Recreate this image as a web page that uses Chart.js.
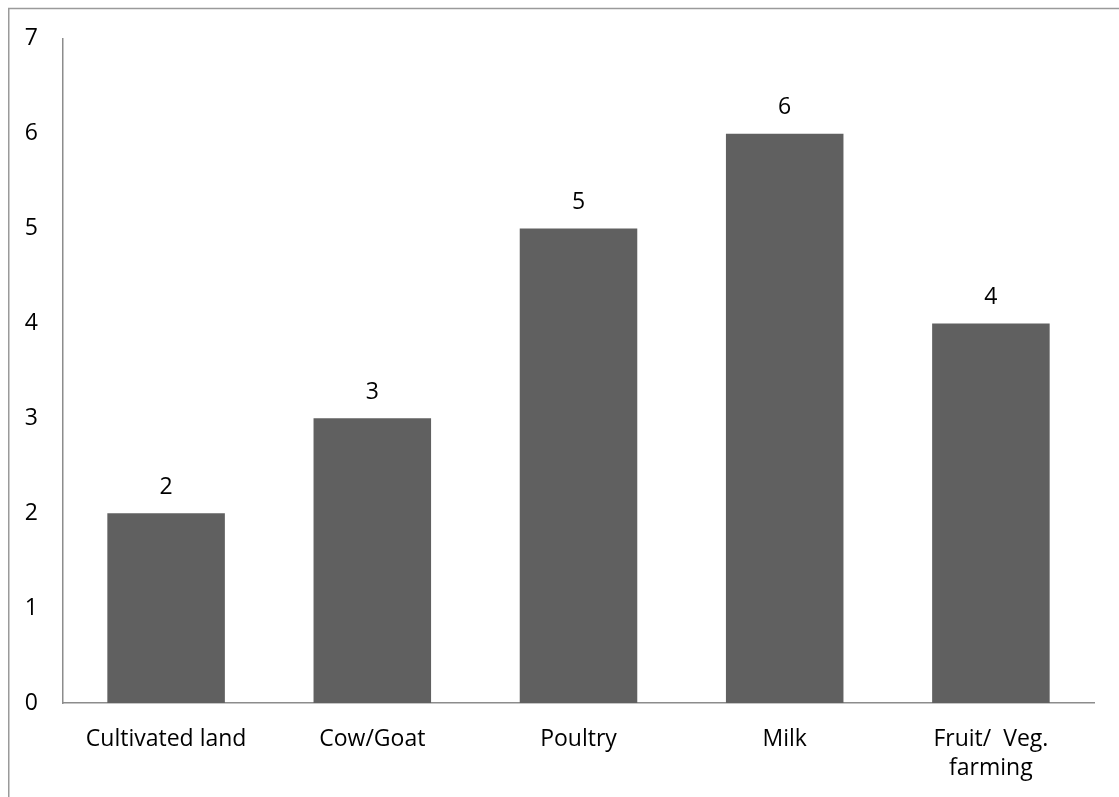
<!DOCTYPE html>
<html>
<head>
<meta charset="utf-8">
<script src="https://cdn.jsdelivr.net/npm/chart.js@4/dist/chart.umd.min.js"></script>
<style>
  html, body { margin: 0; padding: 0; background: #fff; }
  #wrap { position: relative; width: 1119px; height: 797px; }
</style>
</head>
<body>
<div id="wrap"><canvas id="c" width="1119" height="797"></canvas></div>
<script>
// Income sources and their counts
const categories = ['Cultivated land', 'Cow/Goat', 'Poultry', 'Milk', ['Fruit/  Veg.', 'farming']];
const counts = [2, 3, 5, 6, 4];
const yTicks = [0, 1, 2, 3, 4, 5, 6, 7];

const FONT = { family: '"Open Sans", sans-serif', size: 23 };
const AXIS_GRAY = '#8c8c8c';

// Frame line along the top and left edges of the figure
const framePlugin = {
  id: 'frame',
  beforeDraw(chart) {
    const ctx = chart.ctx;
    ctx.save();
    ctx.strokeStyle = '#9a9a9a';
    ctx.lineWidth = 1.5;
    ctx.beginPath();
    ctx.moveTo(8.75, chart.height);
    ctx.lineTo(8.75, 8.5);
    ctx.lineTo(chart.width, 8.5);
    ctx.stroke();
    ctx.restore();
  }
};

// Value printed above each bar
const valueLabels = {
  id: 'valueLabels',
  afterDatasetsDraw(chart) {
    const ctx = chart.ctx;
    const meta = chart.getDatasetMeta(0);
    const data = chart.data.datasets[0].data;
    ctx.save();
    ctx.font = FONT.size + 'px ' + FONT.family;
    ctx.fillStyle = '#000';
    ctx.textAlign = 'center';
    ctx.textBaseline = 'middle';
    meta.data.forEach((bar, i) => {
      ctx.fillText(String(data[i]), bar.x, bar.y - 26);
    });
    ctx.restore();
  }
};

new Chart(document.getElementById('c'), {
  type: 'bar',
  data: {
    labels: categories,
    datasets: [{
      data: counts,
      backgroundColor: '#606060',
      borderWidth: 0,
      categoryPercentage: 1,
      barPercentage: 0.57
    }]
  },
  options: {
    responsive: false,
    animation: false,
    events: [],
    layout: { padding: { left: 0, top: 38, right: 25, bottom: 0 } },
    plugins: { legend: { display: false }, tooltip: { enabled: false } },
    scales: {
      x: {
        grid: { display: false, drawTicks: false },
        border: { display: true, color: AXIS_GRAY, width: 1.5 },
        ticks: { color: '#000', font: { ...FONT, lineHeight: 1.25 }, padding: 22, maxRotation: 0, autoSkip: false },
        afterFit(scale) { scale.height = 797 - 703; }
      },
      y: {
        min: 0,
        max: 7,
        afterBuildTicks(scale) { scale.ticks = yTicks.map(v => ({ value: v })); },
        grid: { display: false, drawTicks: false },
        border: { display: true, color: AXIS_GRAY, width: 1.5 },
        ticks: { color: '#000', font: FONT, padding: 25 },
        afterFit(scale) { scale.width = 63; }
      }
    }
  },
  plugins: [framePlugin, valueLabels]
});
</script>
</body>
</html>
